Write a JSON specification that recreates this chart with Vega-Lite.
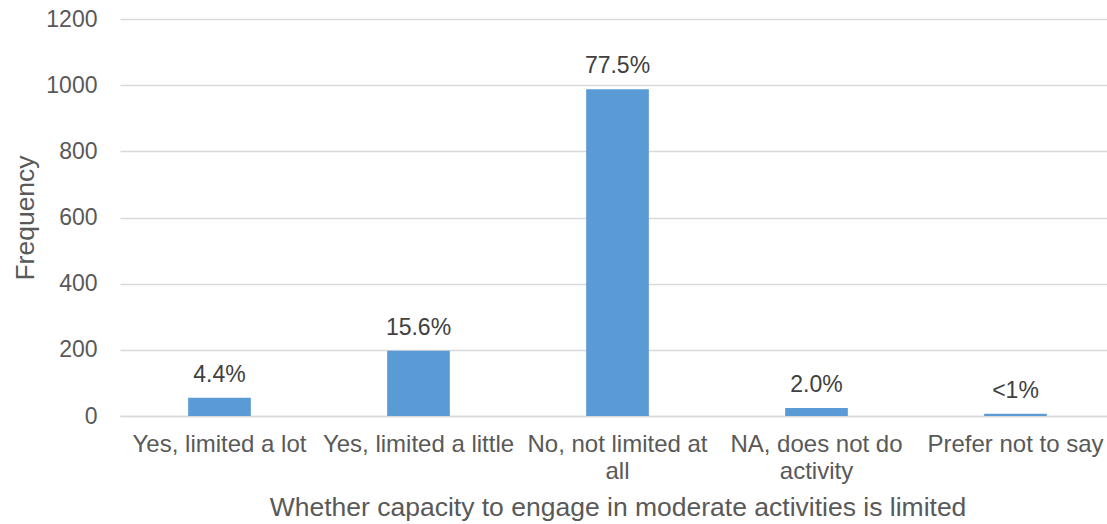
{
  "$schema": "https://vega.github.io/schema/vega-lite/v6.json",
  "width": 995,
  "height": 397,
  "autosize": {"type": "none"},
  "padding": {"left": 120, "top": 19, "right": 0, "bottom": 108},
  "background": "white",
  "config": {
    "view": {"stroke": null},
    "font": "Liberation Sans",
    "axis": {"labelFont": "Liberation Sans", "titleFont": "Liberation Sans", "labelColor": "#595959", "titleColor": "#595959", "titleFontWeight": "normal"}
  },
  "data": {
    "values": [
      {"category": "Yes, limited a lot", "frequency": 55, "label": "4.4%"},
      {"category": "Yes, limited a little", "frequency": 197, "label": "15.6%"},
      {"category": "No, not limited at all", "frequency": 988, "label": "77.5%"},
      {"category": "NA, does not do activity", "frequency": 24, "label": "2.0%"},
      {"category": "Prefer not to say", "frequency": 7, "label": "<1%"}
    ]
  },
  "encoding": {
    "x": {
      "field": "category",
      "type": "nominal",
      "sort": null,
      "scale": {"paddingInner": 0.685, "paddingOuter": 0.3425},
      "axis": {
        "title": "Whether capacity to engage in moderate activities is limited",
        "titleFontSize": 26.5,
        "titlePadding": 11,
        "labelFontSize": 24,
        "labelAngle": 0,
        "labelPadding": 16,
        "labelLineHeight": 27,
        "labelLimit": 400,
        "ticks": false,
        "domainColor": "#D9D9D9",
        "domainWidth": 1.5,
        "labelExpr": "datum.value == 'No, not limited at all' ? ['No, not limited at', 'all'] : datum.value == 'NA, does not do activity' ? ['NA, does not do', 'activity'] : datum.value"
      }
    },
    "y": {
      "field": "frequency",
      "type": "quantitative",
      "scale": {"domain": [0, 1200]},
      "axis": {
        "title": "Frequency",
        "titleFontSize": 26.5,
        "titlePadding": 6,
        "labelFontSize": 23,
        "labelPadding": 23,
        "format": "d",
        "values": [0, 200, 400, 600, 800, 1000, 1200],
        "ticks": false,
        "domain": false,
        "gridColor": "#D9D9D9",
        "gridWidth": 1.5
      }
    }
  },
  "layer": [
    {"mark": {"type": "bar", "color": "#5B9BD5"}},
    {
      "mark": {"type": "text", "baseline": "alphabetic", "dy": -16, "fontSize": 23, "color": "#404040", "font": "Liberation Sans"},
      "encoding": {"text": {"field": "label"}}
    }
  ]
}
